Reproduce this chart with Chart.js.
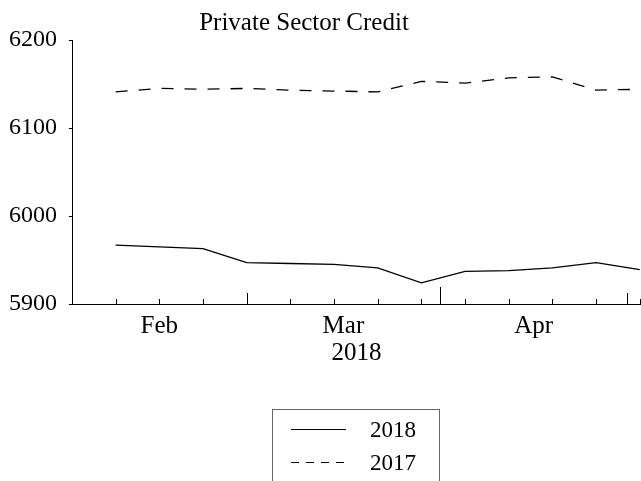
<!DOCTYPE html>
<html>
<head>
<meta charset="utf-8">
<script src="https://cdn.jsdelivr.net/npm/chart.js@4/dist/chart.umd.min.js"></script>
<style>
  html, body { margin: 0; padding: 0; background: #fff; overflow: hidden; }
  canvas { display: block; }
</style>
</head>
<body>
<canvas id="credit" width="641" height="481"></canvas>
<script>
const weekDates = ["2018-02-08", "2018-02-15", "2018-02-22", "2018-03-01", "2018-03-08", "2018-03-15",
  "2018-03-22", "2018-03-29", "2018-04-05", "2018-04-12", "2018-04-19", "2018-04-26", "2018-05-03"];
const credit2018 = [5967, 5965, 5963, 5947, 5946, 5945, 5941, 5924, 5937, 5938, 5941, 5947, 5939];
const credit2017 = [6141, 6145, 6144, 6145, 6143, 6142, 6141, 6153, 6151, 6157, 6158, 6143, 6144];
const seriesNames = ["2018", "2017"];
const monthStarts = ["2018-02-01", "2018-03-01", "2018-04-01", "2018-05-01"];
const monthLabels = ["Feb", "Mar", "Apr"];
const yTicks = [5900, 6000, 6100, 6200];
const chartTitle = "Private Sector Credit";
const axisTitle = "2018";

const FONT = "'Liberation Serif', 'Times New Roman', serif";
const DAY = 86400000;
const origin = Date.parse(monthStarts[0]);
const dayOf = s => (Date.parse(s) - origin) / DAY;

const weekDays = weekDates.map(dayOf);
const monthDays = monthStarts.map(dayOf);
const monthMids = monthLabels.map((m, i) => (monthDays[i] + monthDays[i + 1]) / 2);

// minor ticks at each week, taller ones at month starts, title on top, boxed legend
const decor = {
  id: "decor",
  afterDraw(chart) {
    const ctx = chart.ctx;
    const x = chart.scales.x;
    const bottom = chart.chartArea.bottom;
    ctx.save();
    ctx.strokeStyle = "#000";
    ctx.lineWidth = 1;
    ctx.beginPath();
    weekDays.forEach(d => {
      const px = Math.round(x.getPixelForValue(d)) + 0.5;
      ctx.moveTo(px, bottom);
      ctx.lineTo(px, bottom - 5);
    });
    const majorLen = [0, 11, 17, 11];
    monthDays.forEach((d, i) => {
      if (!majorLen[i]) return;
      const px = Math.round(x.getPixelForValue(d)) + 0.5;
      ctx.moveTo(px, bottom);
      ctx.lineTo(px, bottom - majorLen[i]);
    });
    ctx.stroke();

    ctx.fillStyle = "#000";
    ctx.font = "25px " + FONT;
    ctx.textAlign = "center";
    ctx.textBaseline = "alphabetic";
    ctx.fillText(chartTitle, 304, 30);

    // legend
    ctx.strokeStyle = "#666";
    ctx.strokeRect(272.5, 409.5, 167, 90);
    ctx.font = "23px " + FONT;
    ctx.textAlign = "left";
    ctx.textBaseline = "middle";
    chart.data.datasets.forEach((ds, i) => {
      const y = 429 + i * 33 + 0.5;
      ctx.strokeStyle = "#000";
      ctx.lineWidth = 1.2;
      ctx.setLineDash(i === 0 ? [] : [8, 7]);
      ctx.beginPath();
      ctx.moveTo(291, y);
      ctx.lineTo(346, y);
      ctx.stroke();
      ctx.setLineDash([]);
      ctx.fillText(ds.label, 370, y + 1);
    });
    ctx.restore();
  }
};

new Chart(document.getElementById("credit"), {
  type: "line",
  data: {
    datasets: [
      {
        label: seriesNames[0],
        data: weekDays.map((d, i) => ({ x: d, y: credit2018[i] })),
        borderColor: "#000",
        borderWidth: 1.3,
        pointRadius: 0,
        tension: 0
      },
      {
        label: seriesNames[1],
        data: weekDays.map((d, i) => ({ x: d, y: credit2017[i] })),
        borderColor: "#000",
        borderWidth: 1.3,
        borderDash: [12, 11],
        pointRadius: 0,
        tension: 0
      }
    ]
  },
  options: {
    responsive: false,
    animation: false,
    layout: { padding: { top: 40, left: 0, right: 0, bottom: 108 } },
    plugins: { legend: { display: false }, tooltip: { enabled: false } },
    scales: {
      x: {
        type: "linear",
        min: monthDays[0],
        max: 91.2,
        afterFit: s => { s.height = 69; },
        afterBuildTicks: s => { s.ticks = monthMids.map(v => ({ value: v })); },
        grid: { drawOnChartArea: false, drawTicks: false },
        border: { display: true, color: "#000", width: 1 },
        ticks: {
          autoSkip: false,
          maxRotation: 0,
          padding: 7,
          color: "#000",
          font: { family: FONT, size: 25 },
          callback: (v, i) => monthLabels[i]
        },
        title: {
          display: true,
          text: axisTitle,
          color: "#000",
          font: { family: FONT, size: 25 },
          padding: { top: 0, bottom: 5 }
        }
      },
      y: {
        min: yTicks[0],
        max: yTicks[yTicks.length - 1],
        afterFit: s => { s.width = 72; },
        afterBuildTicks: s => { s.ticks = yTicks.map(v => ({ value: v })); },
        grid: { drawOnChartArea: false, drawTicks: true, tickLength: 3, color: "#000" },
        border: { display: true, color: "#000", width: 1 },
        ticks: {
          padding: 12,
          color: "#000",
          font: { family: FONT, size: 24 },
          callback: v => String(v)
        }
      }
    }
  },
  plugins: [decor]
});
</script>
</body>
</html>
